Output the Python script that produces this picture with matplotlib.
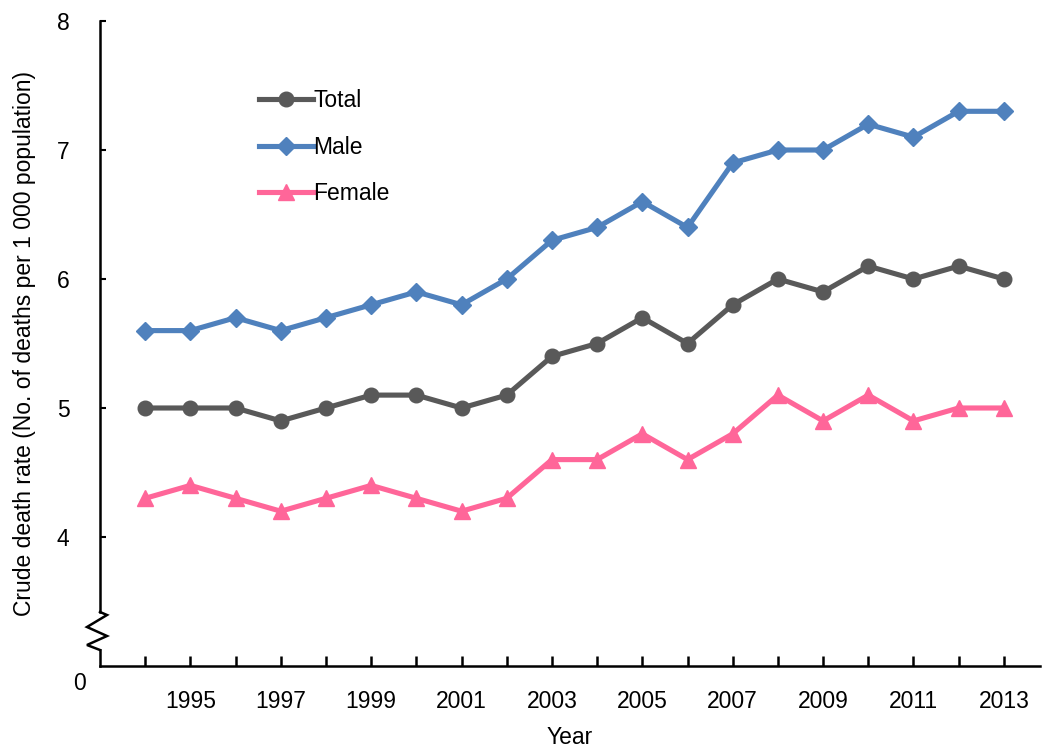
import matplotlib
matplotlib.use("Agg")
import matplotlib.pyplot as plt

plt.rcParams['font.family'] = ['Liberation Sans', 'DejaVu Sans']

years = list(range(1994, 2014))
total = [5.0, 5.0, 5.0, 4.9, 5.0, 5.1, 5.1, 5.0, 5.1, 5.4, 5.5, 5.7, 5.5, 5.8, 6.0, 5.9, 6.1, 6.0, 6.1, 6.0]
male = [5.6, 5.6, 5.7, 5.6, 5.7, 5.8, 5.9, 5.8, 6.0, 6.3, 6.4, 6.6, 6.4, 6.9, 7.0, 7.0, 7.2, 7.1, 7.3, 7.3]
female = [4.3, 4.4, 4.3, 4.2, 4.3, 4.4, 4.3, 4.2, 4.3, 4.6, 4.6, 4.8, 4.6, 4.8, 5.1, 4.9, 5.1, 4.9, 5.0, 5.0]
xtick_labels = [str(y) if y % 2 == 1 else "" for y in years]
ytick_vals = [4, 5, 6, 7, 8]

W, H = 1046, 749
fig = plt.figure(figsize=(W / 100, H / 100), dpi=100)
ax = fig.add_axes([100 / W, 1 - 666 / H, (1040 - 100) / W, (666 - 21) / H])

lwd = 3.7
ax.plot(years, total, color='#595959', lw=lwd, marker='o', ms=10.5, label='Total')
ax.plot(years, male, color='#4F81BD', lw=lwd, marker='D', ms=9, label='Male')
ax.plot(years, female, color='#FF6699', lw=lwd, marker='^', ms=11, label='Female')

ax.set_xlim(1993, 2013.8)
ax.set_ylim(3, 8)
fs = 16.5
ax.set_xticks(years)
ax.set_xticklabels(xtick_labels, fontsize=fs)
ax.tick_params(axis='x', direction='in', length=7, width=1.8, pad=17)
ax.set_yticks(ytick_vals)
ax.set_yticklabels([str(v) for v in ytick_vals], fontsize=fs)
ax.tick_params(axis='y', direction='in', length=4, width=1.5, pad=22)

for s in ['top', 'right', 'left']:
    ax.spines[s].set_visible(False)
ax.spines['bottom'].set_linewidth(1.8)

# left spine with axis break
def py(p):
    return 8 - (p - 21) / 129.0

lw = 1.8
ax.plot([1993, 1993], [8, py(612)], color='black', lw=lw, clip_on=False)
ax.plot([1993, 1993], [py(650), 3], color='black', lw=lw, clip_on=False)
px_per_year = (1040 - 100) / 20.8
def pxx(p):
    return 1993 + (p - 100) / px_per_year
zx = [pxx(100), pxx(107), pxx(87), pxx(107), pxx(87), pxx(100)]
zy = [py(612), py(615), py(627), py(636), py(645), py(650)]
ax.plot(zx, zy, color='black', lw=lw, clip_on=False, solid_joinstyle='miter')

ax.text(pxx(79), py(683), "0", fontsize=fs, ha='center', va='center')

ax.set_xlabel("Year", fontsize=fs, labelpad=10)
ax.set_ylabel("Crude death rate (No. of deaths per 1 000 population)", fontsize=fs, labelpad=15)

leg = ax.legend(loc='upper left', bbox_to_anchor=((250 - 100) / 940, 1 - (80 - 21) / 645),
                frameon=False, fontsize=fs, handlelength=2.35, handletextpad=0.02,
                labelspacing=1.02, borderaxespad=0)

fig.savefig("out.png", dpi=100)
